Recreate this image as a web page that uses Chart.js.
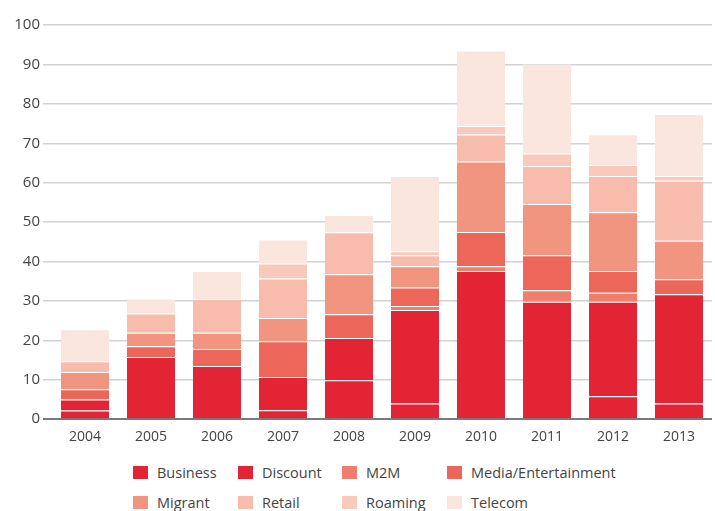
<!DOCTYPE html>
<html>
<head>
<meta charset="utf-8">
<script src="https://cdn.jsdelivr.net/npm/chart.js@4"></script>
<style>
  body { margin: 0; background: #fff; font-family: "Open Sans", sans-serif; }
  #wrap { position: relative; width: 715px; height: 446px; }
  #legend { position: absolute; left: 133px; top: 462px; display: grid;
            grid-template-columns: 105px 104px 105px 180px; row-gap: 10px; }
  .item { display: flex; align-items: center; font-size: 14.5px; color: #444; height: 20px; }
  .box { width: 15px; height: 13px; margin-right: 9px; }
</style>
</head>
<body>
<div id="wrap"><canvas id="c"></canvas></div>
<div id="legend"></div>
<script>
// categories and stacked series
const years = ['2004','2005','2006','2007','2008','2009','2010','2011','2012','2013'];
const business = [2.2, 0, 0, 2.3, 9.9, 4.0, 0, 0, 5.8, 4.0];
const discount = [2.8, 15.8, 13.5, 8.4, 10.7, 23.7, 37.6, 29.8, 24.0, 27.7];
const m2m      = [0, 0, 0, 0, 0, 1.0, 1.2, 2.9, 2.3, 0];
const media    = [2.6, 2.7, 4.3, 9.1, 6.0, 4.7, 8.7, 8.9, 5.5, 3.8];
const migrant  = [4.4, 3.4, 4.1, 5.9, 10.2, 5.4, 17.9, 13.0, 14.9, 9.8];
const retail   = [2.7, 4.9, 8.6, 10.0, 10.6, 2.8, 6.8, 9.6, 9.2, 15.2];
const roaming  = [0, 0, 0, 3.8, 0, 1.0, 2.2, 3.2, 2.8, 1.2];
const telecom  = [8.1, 3.8, 7.1, 6.1, 4.4, 19.1, 19.1, 22.7, 7.8, 15.7];
const yTicks = [0,10,20,30,40,50,60,70,80,90,100];

const series = [
  { label: 'Business', data: business, color: '#e32434' },
  { label: 'Discount', data: discount, color: '#e32434' },
  { label: 'M2M', data: m2m, color: '#ef7e6c' },
  { label: 'Media/Entertainment', data: media, color: '#ec6759' },
  { label: 'Migrant', data: migrant, color: '#f29580' },
  { label: 'Retail', data: retail, color: '#f8bcac' },
  { label: 'Roaming', data: roaming, color: '#f9c9bc' },
  { label: 'Telecom', data: telecom, color: '#fbe6de' }
];

const ctx = document.getElementById('c').getContext('2d');
new Chart(ctx, {
  type: 'bar',
  data: {
    labels: years,
    datasets: series.map(s => ({
      label: s.label,
      data: s.data,
      backgroundColor: s.color,
      borderColor: 'rgba(255,255,255,0.3)',
      borderWidth: { top: 1, left: 0, right: 0, bottom: 0 },
      borderSkipped: false,
      categoryPercentage: 1,
      barPercentage: 0.73
    }))
  },
  options: {
    responsive: true,
    maintainAspectRatio: false,
    animation: false,
    layout: { padding: { left: 4, right: 3, top: 25, bottom: 0 } },
    plugins: { legend: { display: false }, tooltip: { enabled: false } },
    scales: {
      x: {
        stacked: true,
        grid: { display: false },
        border: { display: false },
        ticks: { color: '#444', font: { family: 'Open Sans', size: 14 }, padding: 1 }
      },
      y: {
        stacked: true,
        min: 0,
        max: 100,
        afterBuildTicks: axis => { axis.ticks = yTicks.map(v => ({ value: v })); },
        afterFit: axis => { axis.width = 48; },
        border: { display: false },
        grid: {
          color: c => c.tick && c.tick.value === 0 ? '#7a7a7a' : '#d2d2d2',
          lineWidth: c => c.tick && c.tick.value === 0 ? 2 : 1.5,
          tickLength: 9
        },
        ticks: { color: '#444', font: { family: 'Open Sans', size: 15 }, padding: 3 }
      }
    }
  }
});

const legend = document.getElementById('legend');
series.forEach(s => {
  const d = document.createElement('div');
  d.className = 'item';
  d.innerHTML = '<span class="box" style="background:' + s.color + '"></span>' + s.label;
  legend.appendChild(d);
});
</script>
</body>
</html>
